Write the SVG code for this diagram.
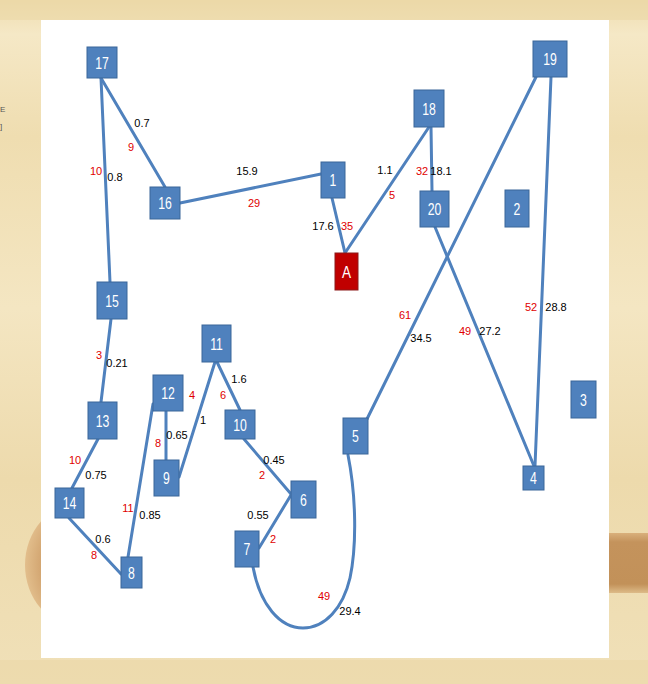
<svg xmlns="http://www.w3.org/2000/svg" width="648" height="684" viewBox="0 0 648 684">
<defs>
<style>
.n rect{fill:#4F81BD;stroke:#3B6699;stroke-width:1}
.n text{fill:#fff;font-family:"Liberation Sans",Arial,sans-serif;font-size:17px;text-anchor:middle}
.na rect{fill:#C00000;stroke:#8C1A1A;stroke-width:1}
#edges path,#edges line{stroke:#4F81BD;stroke-width:3;fill:none;stroke-linecap:round}
.lb text{font-family:"Liberation Sans",Arial,sans-serif;font-size:11px;text-anchor:middle}
.k{fill:#000}
.r{fill:#E00000}
</style>
<linearGradient id="bgv" x1="0" y1="0" x2="0" y2="1">
<stop offset="0" stop-color="#EEDCAE"/>
<stop offset="0.05" stop-color="#F5E8C6"/>
<stop offset="0.2" stop-color="#EFDDB0"/>
<stop offset="0.45" stop-color="#F4E6C2"/>
<stop offset="0.7" stop-color="#EDDAAC"/>
<stop offset="1" stop-color="#F0E0B8"/>
</linearGradient>
<linearGradient id="band" x1="0" y1="0" x2="0" y2="1">
<stop offset="0" stop-color="#D9B07C"/>
<stop offset="0.15" stop-color="#C4935C"/>
<stop offset="0.85" stop-color="#C29159"/>
<stop offset="1" stop-color="#DDBB88"/>
</linearGradient>
<radialGradient id="arc" cx="0.6" cy="0.5" r="0.6">
<stop offset="0.6" stop-color="#C99660"/>
<stop offset="1" stop-color="#E2BE8C"/>
</radialGradient>
</defs>
<g id="background">
<rect x="0" y="0" width="648" height="684" fill="url(#bgv)"/>
<rect x="0" y="0" width="648" height="20" fill="#EAD5A2" opacity="0.5"/>
<rect x="609" y="533" width="39" height="60" fill="url(#band)"/>
<ellipse cx="80" cy="565" rx="55" ry="62" fill="url(#arc)"/>
<rect x="0" y="660" width="648" height="24" fill="#EBD7A6" opacity="0.6"/>
<text x="0" y="112" font-family="Liberation Sans,sans-serif" font-size="8" fill="#555">E</text>
<text x="0" y="129" font-family="Liberation Sans,sans-serif" font-size="8" fill="#555">]</text>
<rect x="41" y="20" width="568" height="638" fill="#FFFFFF"/>
</g>
<g id="edges">
<line x1="101" y1="78" x2="165" y2="187"/>
<line x1="101" y1="78" x2="110" y2="282"/>
<line x1="180" y1="203" x2="321" y2="174"/>
<line x1="332" y1="198" x2="345" y2="253"/>
<line x1="429" y1="127" x2="345" y2="253"/>
<line x1="431" y1="127" x2="432" y2="191"/>
<line x1="536" y1="77" x2="367" y2="419"/>
<line x1="435" y1="227" x2="534" y2="466"/>
<line x1="551" y1="77" x2="535" y2="466"/>
<line x1="111" y1="319" x2="101" y2="402"/>
<line x1="98" y1="439" x2="72" y2="488"/>
<line x1="69" y1="518" x2="121" y2="574"/>
<line x1="128" y1="557" x2="153" y2="404"/>
<line x1="166" y1="411" x2="166" y2="460"/>
<line x1="179" y1="477" x2="215" y2="362"/>
<line x1="217" y1="362" x2="240" y2="410"/>
<line x1="244" y1="439" x2="291" y2="494"/>
<line x1="291" y1="495" x2="259" y2="548"/>
<path d="M253,567 C260,605 280,628 303,628 C325,628 343,608 350,578 C357,545 356,495 348,455"/>
</g>
<g id="labels" class="lb">
<text class="k" x="142" y="127">0.7</text>
<text class="r" x="131" y="151">9</text>
<text class="r" x="96" y="175">10</text>
<text class="k" x="115" y="181">0.8</text>
<text class="k" x="247" y="175">15.9</text>
<text class="r" x="254" y="207">29</text>
<text class="k" x="323" y="230">17.6</text>
<text class="r" x="347" y="230">35</text>
<text class="k" x="385" y="174">1.1</text>
<text class="r" x="392" y="199">5</text>
<text class="r" x="422" y="175">32</text>
<text class="k" x="441" y="175">18.1</text>
<text class="r" x="405" y="319">61</text>
<text class="k" x="421" y="342">34.5</text>
<text class="r" x="465" y="335">49</text>
<text class="k" x="490" y="335">27.2</text>
<text class="r" x="531" y="311">52</text>
<text class="k" x="556" y="311">28.8</text>
<text class="r" x="99" y="359">3</text>
<text class="k" x="117" y="367">0.21</text>
<text class="r" x="75" y="464">10</text>
<text class="k" x="96" y="479">0.75</text>
<text class="k" x="103" y="543">0.6</text>
<text class="r" x="94" y="559">8</text>
<text class="r" x="128" y="512">11</text>
<text class="k" x="150" y="519">0.85</text>
<text class="r" x="158" y="447">8</text>
<text class="k" x="177" y="439">0.65</text>
<text class="r" x="192" y="399">4</text>
<text class="k" x="203" y="424">1</text>
<text class="k" x="239" y="383">1.6</text>
<text class="r" x="223" y="399">6</text>
<text class="k" x="274" y="464">0.45</text>
<text class="r" x="262" y="479">2</text>
<text class="k" x="258" y="519">0.55</text>
<text class="r" x="273" y="543">2</text>
<text class="r" x="324" y="600">49</text>
<text class="k" x="350" y="615">29.4</text>
</g>
<g id="n17" class="n"><rect x="87" y="47" width="30" height="31"/><text transform="translate(102,68.5) scale(0.72,1)">17</text></g>
<g id="n16" class="n"><rect x="150" y="187" width="30" height="32"/><text transform="translate(165,209) scale(0.72,1)">16</text></g>
<g id="n1" class="n"><rect x="321" y="162" width="24" height="36"/><text transform="translate(333,186) scale(0.72,1)">1</text></g>
<g id="nA" class="n na"><rect x="335" y="253" width="23" height="37"/><text transform="translate(346.5,277.5) scale(0.8,1)">A</text></g>
<g id="n18" class="n"><rect x="414" y="90" width="30" height="37"/><text transform="translate(429,114.5) scale(0.72,1)">18</text></g>
<g id="n20" class="n"><rect x="420" y="191" width="29" height="36"/><text transform="translate(434.5,215) scale(0.72,1)">20</text></g>
<g id="n19" class="n"><rect x="533" y="41" width="34" height="36"/><text transform="translate(550,65) scale(0.72,1)">19</text></g>
<g id="n2" class="n"><rect x="505" y="190" width="24" height="37"/><text transform="translate(517,214.5) scale(0.72,1)">2</text></g>
<g id="n3" class="n"><rect x="571" y="381" width="25" height="37"/><text transform="translate(583.5,405.5) scale(0.72,1)">3</text></g>
<g id="n4" class="n"><rect x="523" y="466" width="21" height="24"/><text transform="translate(533.5,484) scale(0.72,1)">4</text></g>
<g id="n15" class="n"><rect x="97" y="282" width="30" height="37"/><text transform="translate(112,306.5) scale(0.72,1)">15</text></g>
<g id="n13" class="n"><rect x="88" y="402" width="29" height="37"/><text transform="translate(102.5,426.5) scale(0.72,1)">13</text></g>
<g id="n14" class="n"><rect x="55" y="488" width="29" height="30"/><text transform="translate(69.5,509) scale(0.72,1)">14</text></g>
<g id="n8" class="n"><rect x="121" y="557" width="21" height="31"/><text transform="translate(131.5,578.5) scale(0.72,1)">8</text></g>
<g id="n12" class="n"><rect x="153" y="375" width="30" height="36"/><text transform="translate(168,399) scale(0.72,1)">12</text></g>
<g id="n9" class="n"><rect x="154" y="460" width="25" height="36"/><text transform="translate(166.5,484) scale(0.72,1)">9</text></g>
<g id="n11" class="n"><rect x="202" y="325" width="29" height="37"/><text transform="translate(216.5,349.5) scale(0.72,1)">11</text></g>
<g id="n10" class="n"><rect x="225" y="410" width="30" height="29"/><text transform="translate(240,430.5) scale(0.72,1)">10</text></g>
<g id="n7" class="n"><rect x="235" y="531" width="24" height="36"/><text transform="translate(247,555) scale(0.72,1)">7</text></g>
<g id="n6" class="n"><rect x="291" y="481" width="25" height="37"/><text transform="translate(303.5,505.5) scale(0.72,1)">6</text></g>
<g id="n5" class="n"><rect x="343" y="418" width="25" height="36"/><text transform="translate(355.5,442) scale(0.72,1)">5</text></g>
</svg>
